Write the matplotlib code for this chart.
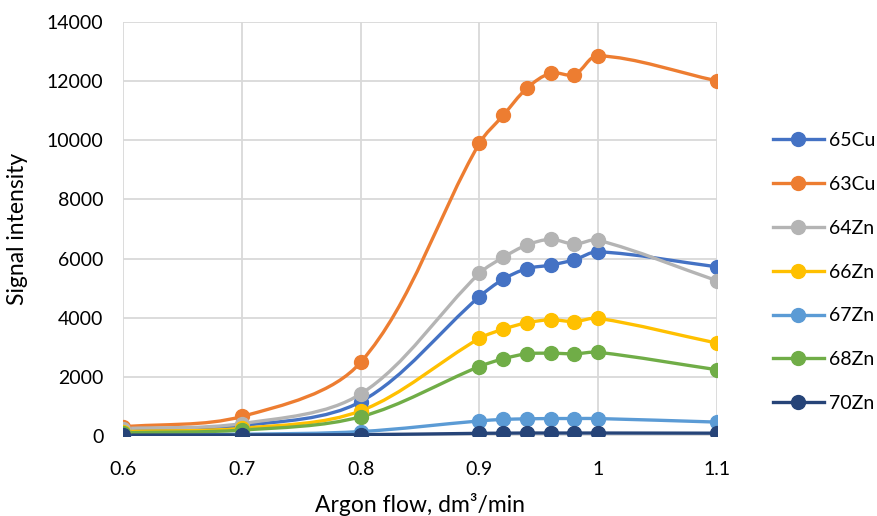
import matplotlib
matplotlib.use("Agg")
from matplotlib import pyplot as plt
from matplotlib.path import Path
from matplotlib.patches import PathPatch
from matplotlib.lines import Line2D
import numpy as np

plt.rcParams['font.family'] = ['Lato', 'DejaVu Sans']

flow = [0.6, 0.7, 0.8, 0.9, 0.92, 0.94, 0.96, 0.98, 1.0, 1.1]

cu65 = [200, 350, 1160, 4710, 5300, 5660, 5780, 5960, 6230, 5720]
cu63 = [310, 660, 2490, 9900, 10840, 11760, 12270, 12220, 12860, 12010]
zn64 = [250, 420, 1420, 5500, 6040, 6460, 6650, 6490, 6620, 5250]
zn66 = [150, 260, 850, 3300, 3610, 3830, 3930, 3870, 3980, 3140]
zn67 = [40, 60, 150, 510, 560, 580, 590, 590, 590, 470]
zn68 = [110, 200, 650, 2350, 2610, 2780, 2800, 2780, 2830, 2240]
zn70 = [30, 35, 45, 90, 95, 100, 100, 100, 100, 95]

names = ["65Cu", "63Cu", "64Zn", "66Zn", "67Zn", "68Zn", "70Zn"]
series = [cu65, cu63, zn64, zn66, zn67, zn68, zn70]
colors = ["#4472C4", "#ED7D31", "#B4B4B4", "#FFC000", "#5B9BD5", "#70AD47", "#264478"]

XLIM = (0.6, 1.1)
YLIM = (0, 14000)
AX_W, AX_H = 594, 414  # axes size in pixels


def smooth_path(x, y):
    # bezier segments through every point, tangents scaled by chord length
    # (worked out in pixel space so both axes count equally)
    sx = AX_W / (XLIM[1] - XLIM[0])
    sy = AX_H / (YLIM[1] - YLIM[0])
    p = np.column_stack([np.asarray(x) * sx, np.asarray(y) * sy]).astype(float)
    ext = np.vstack([p[0], p, p[-1]])
    verts = [p[0]]
    codes = [Path.MOVETO]
    for i in range(len(p) - 1):
        p0, p1, p2, p3 = ext[i], ext[i + 1], ext[i + 2], ext[i + 3]
        d01 = np.hypot(*(p1 - p0))
        d12 = np.hypot(*(p2 - p1))
        d23 = np.hypot(*(p3 - p2))
        c1 = p1 + (p2 - p0) * d12 / (d01 + d12) / 3.0
        c2 = p2 - (p3 - p1) * d12 / (d12 + d23) / 3.0
        verts += [c1, c2, p2]
        codes += [Path.CURVE4] * 3
    verts = np.array(verts) / [sx, sy]
    return Path(verts, codes)


fig = plt.figure(figsize=(8.77, 5.16), dpi=100)
ax = fig.add_axes([123 / 877, 80 / 516, AX_W / 877, AX_H / 516])

handles = []
for name, vals, col in zip(names, series, colors):
    ax.add_patch(PathPatch(smooth_path(flow, vals), fill=False, edgecolor=col,
                           lw=2.4, capstyle='round', joinstyle='round'))
    ax.plot(flow, vals, ls='none', marker='o', ms=10, color=col)
    handles.append(Line2D([], [], color=col, lw=2.4, marker='o', ms=10))

ax.set_xlim(*XLIM)
ax.set_ylim(*YLIM)
ax.set_xticks([0.6, 0.7, 0.8, 0.9, 1.0, 1.1])
ax.set_xticklabels(["0.6", "0.7", "0.8", "0.9", "1", "1.1"])
ax.set_yticks(np.arange(0, 14001, 2000))
ax.grid(True, color="#d9d9d9", lw=1.3)
ax.set_axisbelow(True)
for s in ax.spines.values():
    s.set_visible(False)
ax.tick_params(length=0, labelsize=14, colors="black")
ax.tick_params(axis='x', pad=18)
ax.tick_params(axis='y', pad=14)

ax.set_ylabel("Signal intensity", fontsize=16.5)
ax.yaxis.set_label_coords(-0.16, 0.5)
ax.set_xlabel("Argon flow, dm³/min", fontsize=16.5)
ax.xaxis.set_label_coords(0.5, -0.137)

ax.legend(handles, names, loc='center left', bbox_to_anchor=(1.065, 0.396),
          frameon=False, fontsize=14, handlelength=2.6, handletextpad=0.25,
          labelspacing=1.38)

fig.savefig("out.png", dpi=100)
